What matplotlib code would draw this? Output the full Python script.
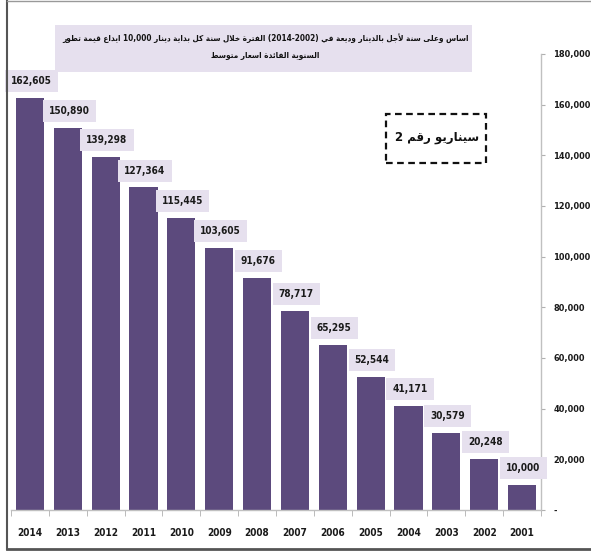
import re
import matplotlib
matplotlib.use("Agg")
import matplotlib.pyplot as plt
from matplotlib.patches import Rectangle
from matplotlib.ticker import FuncFormatter, FixedLocator

years = ["2014", "2013", "2012", "2011", "2010", "2009", "2008",
         "2007", "2006", "2005", "2004", "2003", "2002", "2001"]
values = [162605, 150890, 139298, 127364, 115445, 103605, 91676,
          78717, 65295, 52544, 41171, 30579, 20248, 10000]
y_ticks = [0, 20000, 40000, 60000, 80000, 100000, 120000, 140000, 160000, 180000]

# the reference shows the title words laid out left to right
title_1 = "تطور قيمة ايداع 10,000 دينار بداية كل سنة خلال الفترة (2014-2002) في وديعة بالدينار لأجل سنة وعلى اساس"
title_2 = "متوسط اسعار الفائدة السنوية"
scenario = "سيناريو رقم 2"

bar_color = "#5c4a7d"
lavender = "#e6e0ee"
W, H = 591, 552

num_font = dict(family="DejaVu Sans", fontstretch="condensed", fontweight="bold")

# --- tiny arabic shaping (matplotlib has no complex text layout) ---
# letter -> first presentation form codepoint, number of forms (2 = joins right only)
forms = {
    "ء": (0xFE80, 1), "آ": (0xFE81, 2), "أ": (0xFE83, 2), "ؤ": (0xFE85, 2),
    "إ": (0xFE87, 2), "ئ": (0xFE89, 4), "ا": (0xFE8D, 2), "ب": (0xFE8F, 4),
    "ة": (0xFE93, 2), "ت": (0xFE95, 4), "ث": (0xFE99, 4), "ج": (0xFE9D, 4),
    "ح": (0xFEA1, 4), "خ": (0xFEA5, 4), "د": (0xFEA9, 2), "ذ": (0xFEAB, 2),
    "ر": (0xFEAD, 2), "ز": (0xFEAF, 2), "س": (0xFEB1, 4), "ش": (0xFEB5, 4),
    "ص": (0xFEB9, 4), "ض": (0xFEBD, 4), "ط": (0xFEC1, 4), "ظ": (0xFEC5, 4),
    "ع": (0xFEC9, 4), "غ": (0xFECD, 4), "ف": (0xFED1, 4), "ق": (0xFED5, 4),
    "ك": (0xFED9, 4), "ل": (0xFEDD, 4), "م": (0xFEE1, 4), "ن": (0xFEE5, 4),
    "ه": (0xFEE9, 4), "و": (0xFEED, 2), "ى": (0xFEEF, 2), "ي": (0xFEF1, 4),
}
lam_alef = {"آ": 0xFEF5, "أ": 0xFEF7, "إ": 0xFEF9, "ا": 0xFEFB}


def shape(text):
    chars = list(text)
    units = []
    i = 0
    while i < len(chars):
        c = chars[i]
        if c == "ل" and i + 1 < len(chars) and chars[i + 1] in lam_alef:
            units.append(("LA", chars[i + 1]))
            i += 2
        else:
            units.append(("CH", c))
            i += 1

    def joins_left(u):
        kind, c = u
        return kind == "CH" and c in forms and forms[c][1] == 4

    def is_letter(u):
        kind, c = u
        return kind == "LA" or c in forms

    out = []
    for k, u in enumerate(units):
        kind, c = u
        prev_j = k > 0 and joins_left(units[k - 1]) and is_letter(u)
        next_j = joins_left(u) and k + 1 < len(units) and is_letter(units[k + 1])
        if kind == "LA":
            out.append(chr(lam_alef[c] + (1 if prev_j else 0)))
        elif c in forms:
            base, n = forms[c]
            if n == 1:
                out.append(chr(base))
            elif prev_j and next_j:
                out.append(chr(base + 3))
            elif next_j:
                out.append(chr(base + 2))
            elif prev_j:
                out.append(chr(base + 1))
            else:
                out.append(chr(base))
        else:
            out.append(c)
    vis = "".join(out)[::-1]
    vis = re.sub(r"[0-9][0-9,.]*", lambda m: m.group(0)[::-1], vis)
    return vis.translate(str.maketrans("()", ")("))


def shape_words(text):
    # shape each word on its own, keep the word order left to right
    return " ".join(shape(w) if any(c in forms for c in w) else w for w in text.split(" "))


def fx(x):
    return x / W


def fy(y):
    return 1 - y / H


fig = plt.figure(figsize=(W / 100, H / 100), dpi=100)
ax = fig.add_axes([fx(11), fy(510), fx(541) - fx(11), fy(54) - fy(510)])

x = range(len(years))
bars = ax.bar(x, values, width=0.74, color=bar_color)
for b, v in zip(bars, values):
    ax.annotate(f"{v:,}", (b.get_x() + b.get_width() / 2, v),
                xytext=(1, 12), textcoords="offset points",
                ha="center", va="center", fontsize=7.2, color="#1a1a1a",
                bbox=dict(boxstyle="square,pad=0.6", fc=lavender, ec="none"),
                **num_font)

ax.set_xlim(-0.5, len(years) - 0.5)
ax.set_ylim(0, 180000)
ax.set_xticks(list(x))
ax.set_xticklabels(years, fontsize=7.2, **num_font)
ax.xaxis.set_minor_locator(FixedLocator([i - 0.5 for i in range(len(years) + 1)]))
ax.tick_params(axis="x", which="major", length=0, pad=13, colors="#1a1a1a")
ax.tick_params(axis="x", which="minor", length=4, color="#b0b0b0")

ax.yaxis.tick_right()
ax.set_yticks(y_ticks)
ax.yaxis.set_major_formatter(FuncFormatter(lambda v, p: "-" if v == 0 else f"{v:,.0f}"))
ax.tick_params(axis="y", length=3, color="#b0b0b0", pad=6, labelsize=6.6, labelcolor="#1a1a1a")
for lab in ax.get_yticklabels():
    lab.set_family("DejaVu Sans")
    lab.set_stretch("condensed")
    lab.set_fontweight("bold")

for s in ["top", "left"]:
    ax.spines[s].set_visible(False)
for s in ["right", "bottom"]:
    ax.spines[s].set_color("#c0c0c0")
    ax.spines[s].set_linewidth(1)

# title panel
fig.patches.append(Rectangle((fx(55), fy(72)), fx(472) - fx(55), fy(25) - fy(72),
                             transform=fig.transFigure, fc=lavender, ec="none", zorder=0))
fig.text(fx(265), fy(38), shape_words(title_1), ha="center", va="center",
         fontsize=5.9, fontweight="bold", family="DejaVu Sans", fontstretch="condensed",
         color="#111111")
fig.text(fx(265), fy(55), shape_words(title_2), ha="center", va="center",
         fontsize=5.9, fontweight="bold", family="DejaVu Sans", fontstretch="condensed",
         color="#111111")

# scenario box
fig.patches.append(Rectangle((fx(386), fy(163)), fx(486) - fx(386), fy(114) - fy(163),
                             transform=fig.transFigure, fc="white", ec="#111111",
                             lw=1.6, ls=(0, (3, 2)), zorder=5))
fig.text(fx(437), fy(138), shape(scenario), ha="center", va="center",
         fontsize=8.5, fontweight="bold", family="DejaVu Sans", color="#111111", zorder=6)

# frame of the picture
fig.add_artist(plt.Line2D([fx(7), fx(7)], [fy(549), 1], transform=fig.transFigure,
                          color="#555555", lw=1.5))
fig.add_artist(plt.Line2D([fx(7), 1], [fy(549), fy(549)], transform=fig.transFigure,
                          color="#555555", lw=2))
fig.add_artist(plt.Line2D([fx(7), 1], [fy(1), fy(1)], transform=fig.transFigure,
                          color="#999999", lw=1))

fig.savefig("out.png", dpi=100)
